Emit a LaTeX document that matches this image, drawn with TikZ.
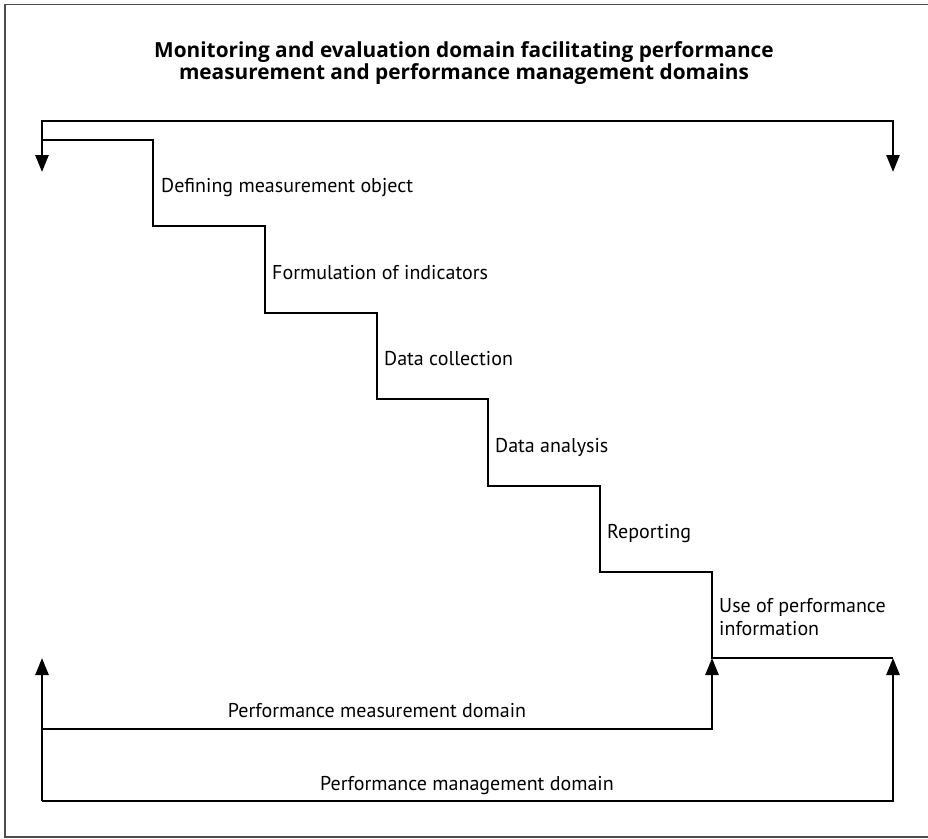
\documentclass[tikz,border=0pt]{standalone}
\usepackage{fontspec}
\setmainfont{PT Sans}
\newfontfamily\titlefont{Open Sans}
\usetikzlibrary{arrows.meta}
\begin{document}
\begin{tikzpicture}[x=1pt,y=-1pt,
  line/.style={line width=2.6pt, line join=miter, line cap=butt},
  tip/.style={-{Triangle[length=17pt,width=13pt]}},
  frame/.style={draw=black!70, line width=1.2pt},
  lbl/.style={anchor=base west, inner sep=0pt, font=\fontsize{20}{23}\selectfont},
  clbl/.style={anchor=base, inner sep=0pt, font=\fontsize{20}{23}\selectfont},
  ttl/.style={anchor=base, inner sep=0pt, align=center, font=\titlefont\bfseries\fontsize{20.8}{21.5}\selectfont}]
\useasboundingbox (0,0) rectangle (928,838);
\draw[frame] (930,4.5) -- (5,4.5) -- (5,837) -- (930,837);
% title
\node[ttl] (title) at (464,79) {Monitoring and evaluation domain facilitating performance\\measurement and performance management domains};
% coordinates
\coordinate (tl) at (42,121);
\coordinate (tr) at (893,121);
\coordinate (tlend) at (42,172);
\coordinate (trend) at (893,172);
\draw[line, {Triangle[length=17pt,width=13pt]}-{Triangle[length=17pt,width=13pt]}] (tlend) -- (tl) -- (tr) -- (trend);
% staircase
\coordinate (s0) at (42,140);
\coordinate (s6) at (893,658);
\draw[line] (s0) -- (153,140) -- (153,226) -- (265,226) -- (265,313) -- (377,313) -- (377,399)
  -- (488,399) -- (488,486) -- (600,486) -- (600,572) -- (712,572) -- (712,658) -- (s6);
% bottom brackets
\coordinate (bl) at (42,801);
\coordinate (bltip) at (42,658);
\coordinate (ml) at (42,729);
\coordinate (mr) at (712,729);
\coordinate (mrtip) at (712,658);
\coordinate (br) at (893,801);
\coordinate (brtip) at (893,658);
\draw[line, tip] (bl) -- (bltip);
\draw[line, tip] (ml) -- (mr) -- (mrtip);
\draw[line, tip] (bl) -- (br) -- (brtip);
% labels
\node[lbl] (d1) at (161,192) {Defining measurement object};
\node[lbl] (d2) at (272,279) {Formulation of indicators};
\node[lbl] (d3) at (384,365) {Data collection};
\node[lbl] (d4) at (495,452) {Data analysis};
\node[lbl] (d5) at (607,538) {Reporting};
\node[lbl, align=left] (d6) at (719,635) {Use of performance\\information};
\node[clbl] (pm) at (377,717) {Performance measurement domain};
\node[clbl] (pg) at (467,790) {Performance management domain};
\end{tikzpicture}
\end{document}
